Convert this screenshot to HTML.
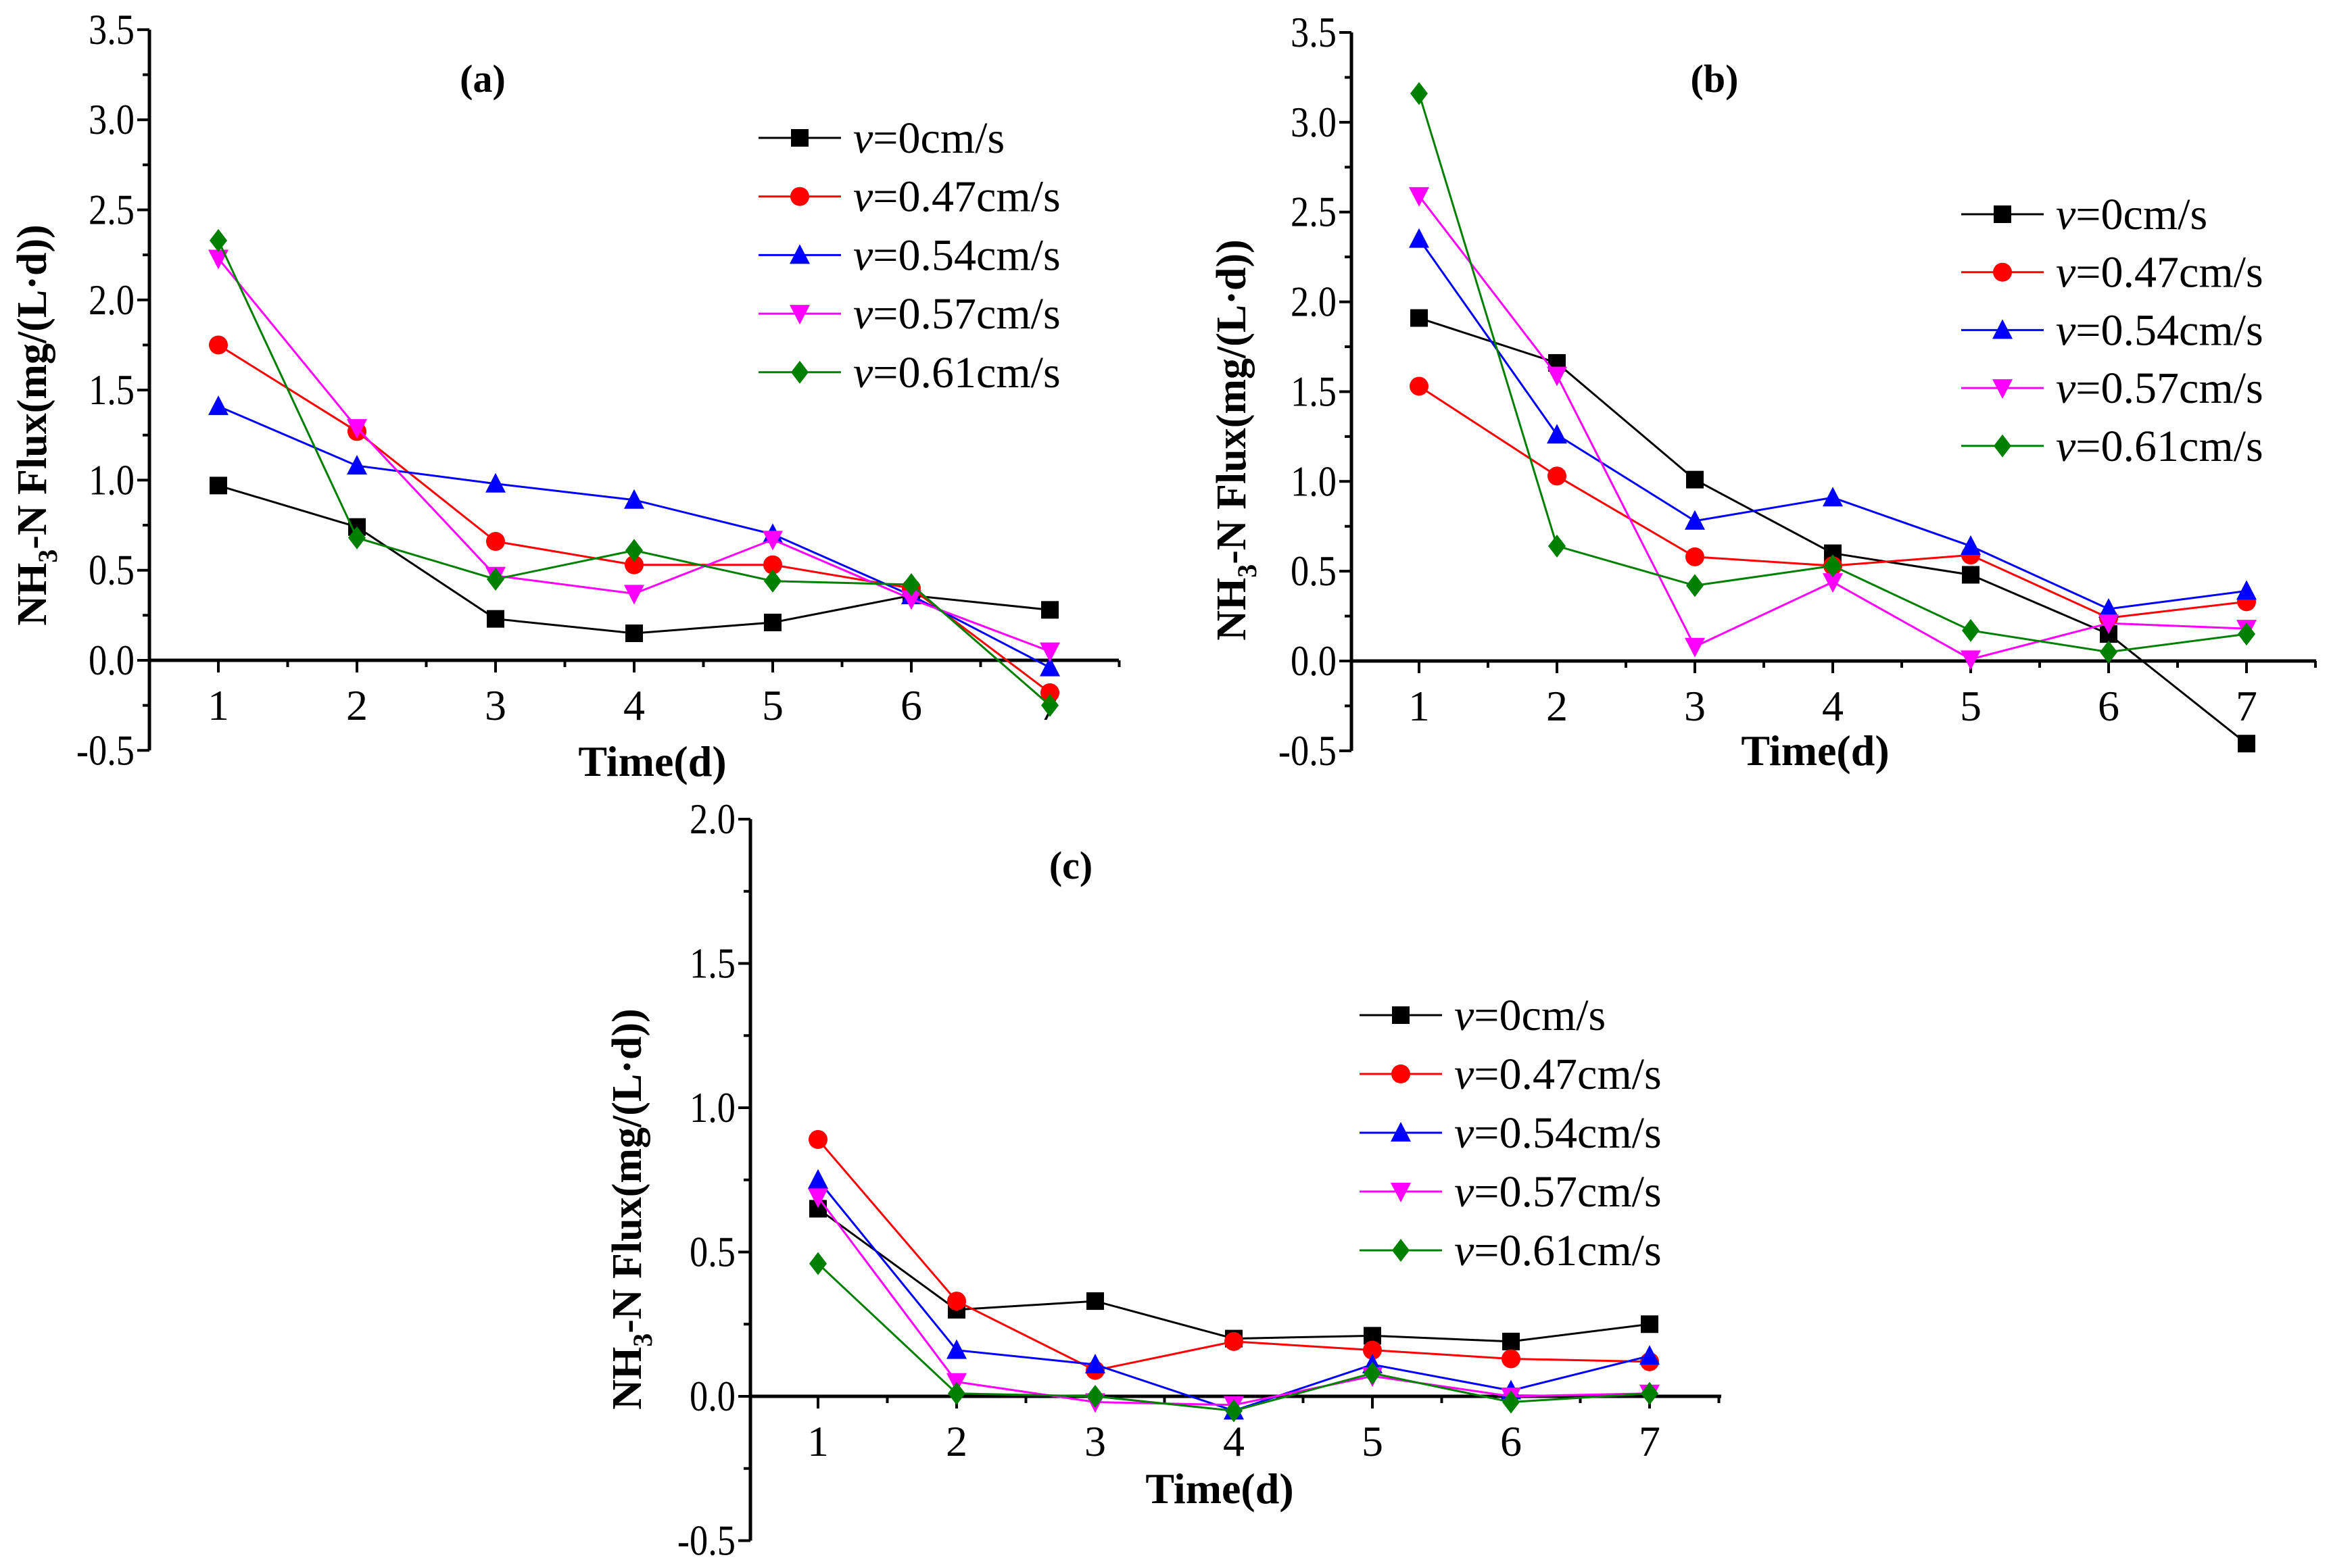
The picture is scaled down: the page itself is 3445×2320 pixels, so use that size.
<!DOCTYPE html>
<html><head><meta charset="utf-8"><style>
html,body{margin:0;padding:0;background:#fff}
svg{display:block}
svg text{font-family:"Liberation Serif","DejaVu Serif",serif}
</style></head><body>
<svg id="fig" width="3445" height="2320" viewBox="0 0 3445 2320" xmlns="http://www.w3.org/2000/svg" font-family="Liberation Serif, DejaVu Serif, serif"></svg>
<script>
const days = [1,2,3,4,5,6,7];
const seriesLabels = ["0cm/s","0.47cm/s","0.54cm/s","0.57cm/s","0.61cm/s"];
const seriesColors = ["#000000","#ff0000","#0000ff","#ff00ff","#008000"];
const seriesMarkers = ["square","circle","triangle","down","diamond"];
const aV0 = [0.97,0.74,0.23,0.15,0.21,0.36,0.28];
const aV47 = [1.75,1.27,0.66,0.53,0.53,0.40,-0.18];
const aV54 = [1.41,1.08,0.98,0.89,0.70,0.36,-0.04];
const aV57 = [2.23,1.29,0.47,0.37,0.67,0.34,0.05];
const aV61 = [2.33,0.68,0.45,0.61,0.44,0.42,-0.25];
const bV0 = [1.91,1.66,1.01,0.60,0.48,0.15,-0.46];
const bV47 = [1.53,1.03,0.58,0.53,0.59,0.24,0.33];
const bV54 = [2.35,1.26,0.78,0.91,0.64,0.29,0.39];
const bV57 = [2.59,1.59,0.08,0.44,0.01,0.21,0.18];
const bV61 = [3.16,0.64,0.42,0.53,0.17,0.05,0.15];
const cV0 = [0.65,0.30,0.33,0.20,0.21,0.19,0.25];
const cV47 = [0.89,0.33,0.09,0.19,0.16,0.13,0.12];
const cV54 = [0.75,0.16,0.11,-0.05,0.11,0.02,0.14];
const cV57 = [0.69,0.05,-0.02,-0.03,0.07,0.00,0.01];
const cV61 = [0.46,0.01,0.00,-0.05,0.08,-0.02,0.01];
const abTicks = ["-0.5","0.0","0.5","1.0","1.5","2.0","2.5","3.0","3.5"];
const cTicks = ["-0.5","0.0","0.5","1.0","1.5","2.0"];

const NS="http://www.w3.org/2000/svg";
const svg=document.getElementById('fig');
const FF="Liberation Serif, DejaVu Serif, serif";
function mk(tag,attrs,parent){const e=document.createElementNS(NS,tag);for(const k in attrs)e.setAttribute(k,attrs[k]);if(tag==='text')e.setAttribute('font-family',FF);(parent||svg).appendChild(e);return e;}

function marker(g,type,x,y,color){
  const s=13;let e;
  if(type==="square")e=mk('rect',{x:x-s,y:y-s,width:2*s,height:2*s,fill:color},g);
  else if(type==="circle")e=mk('circle',{cx:x,cy:y,r:s+1,fill:color},g);
  else if(type==="triangle")e=mk('polygon',{points:`${x},${y-s-3} ${x+s+2},${y+s} ${x-s-2},${y+s}`,fill:color},g);
  else if(type==="down")e=mk('polygon',{points:`${x},${y+s+3} ${x+s+2},${y-s} ${x-s-2},${y-s}`,fill:color},g);
  else e=mk('polygon',{points:`${x},${y-s-4} ${x+s},${y} ${x},${y+s+4} ${x-s},${y}`,fill:color},g);
  return e;
}

function panel(p){
  const g=mk('g',{});
  
  
  const xs=d=>p.x1+(d-1)*(p.x7-p.x1)/6;
  const ys=v=>p.y0-(v)*p.unit;
  const ymin=parseFloat(p.ticks[0]), ymax=parseFloat(p.ticks[p.ticks.length-1]);
  const ya=mk('line',{x1:p.ax,y1:ys(ymax),x2:p.ax,y2:ys(ymin),stroke:'#000','stroke-width':5},g);
  
  for(let v=ymin;v<=ymax+1e-6;v+=0.25){
    const major=Math.abs(v*2-Math.round(v*2))<1e-6;
    mk('line',{x1:p.ax-(major?18:10),y1:ys(v),x2:p.ax,y2:ys(v),stroke:'#000','stroke-width':4},g);
  }
  p.ticks.forEach(t=>{
    const tl=mk('text',{x:p.ax-22,y:ys(parseFloat(t))+21,'text-anchor':'end','font-size':64,transform:`translate(${p.ax-22},0) scale(0.85,1) translate(${-(p.ax-22)},0)`},g);
    tl.textContent=t;
    
  });
  const xa=mk('line',{x1:p.ax,y1:p.y0,x2:p.xend,y2:p.y0,stroke:'#000','stroke-width':5},g);
  
  for(let d=0.5;d<=7.5;d+=0.5){
    const major=Number.isInteger(d);const x=xs(d);
    if(x>p.xend+2||x<p.ax)continue;
    mk('line',{x1:x,y1:p.y0,x2:x,y2:p.y0+(major?18:10),stroke:'#000','stroke-width':4},g);
  }
  days.forEach(d=>{
    const tl=mk('text',{x:xs(d),y:p.y0+88,'text-anchor':'middle','font-size':64},g);
    tl.textContent=d;
    
  });
  const xt=mk('text',{x:p.xtx,y:p.xty,'text-anchor':'middle','font-size':64,'font-weight':'bold'},g);
  xt.textContent='Time(d)';
  
  const yt=mk('text',{transform:`translate(${p.ytx},${p.yty}) rotate(-90)`,'text-anchor':'middle','font-size':62,'font-weight':'bold'},g);
  yt.innerHTML='NH<tspan font-size="40" dy="16">3</tspan><tspan dy="-16">-N Flux(mg/(L·d))</tspan>';
  
  const tt=mk('text',{x:p.tx,y:p.ty,'text-anchor':'middle','font-size':58,'font-weight':'bold'},g);
  tt.textContent='('+p.id+')';
  
  p.data.forEach((vals,i)=>{
    const sg=mk('g',{},g);
    
    
    const pts=vals.map((v,j)=>xs(days[j])+','+ys(v)).join(' ');
    mk('polyline',{points:pts,fill:'none',stroke:seriesColors[i],'stroke-width':3},sg);
    vals.forEach((v,j)=>{
      const m=marker(sg,seriesMarkers[i],xs(days[j]),ys(v),seriesColors[i]);
      
      
    });
  });
  const lg=mk('g',{},g);
  
  seriesLabels.forEach((lab,i)=>{
    const y=p.ly+i*p.lstep;
    const le=mk('g',{},lg);
    
    mk('line',{x1:p.lx,y1:y,x2:p.lx+122,y2:y,stroke:seriesColors[i],'stroke-width':3},le);
    marker(le,seriesMarkers[i],p.lx+61,y,seriesColors[i]);
    const t=mk('text',{x:p.lx+140,y:y+22,'font-size':66},le);
    t.innerHTML='<tspan font-style="italic">v</tspan>='+lab;
  });
}

panel({id:'a',ax:221,x1:323,x7:1553,xend:1655,y0:977,unit:266.6,ticks:abTicks,
  data:[aV0,aV47,aV54,aV57,aV61],lx:1122,ly:204,lstep:86.7,tx:714,ty:136,xtx:965,xty:1148,ytx:68,yty:629});
panel({id:'b',ax:1999,x1:2099,x7:3323,xend:3426,y0:978,unit:265.7,ticks:abTicks,
  data:[bV0,bV47,bV54,bV57,bV61],lx:2901,ly:317,lstep:85.7,tx:2536,ty:136,xtx:2685,xty:1132,ytx:1842,yty:651});
panel({id:'c',ax:1110,x1:1210,x7:2440,xend:2546,y0:2066,unit:427,ticks:cTicks,
  data:[cV0,cV47,cV54,cV57,cV61],lx:2011,ly:1502,lstep:87,tx:1584,ty:1300,xtx:1804,xty:2224,ytx:948,yty:1789});
</script>
</body></html>
